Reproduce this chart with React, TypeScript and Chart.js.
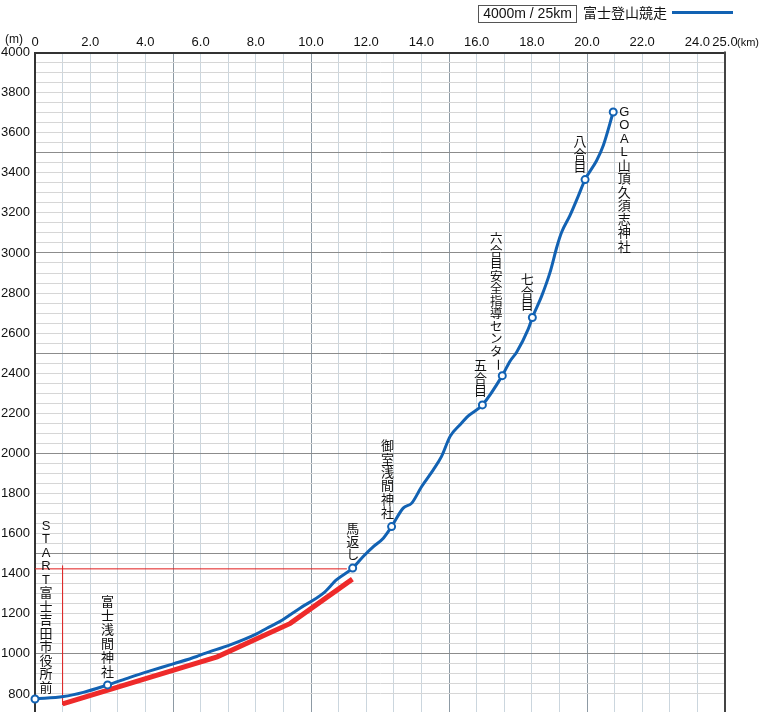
import React, { useEffect, useRef } from 'react';
import { Chart, registerables } from 'chart.js';

Chart.register(...registerables);

// ---- data ----
const courseKm = [
  0, 1.03, 1.75, 2.63, 3.44, 4.17, 5.01, 5.86, 6.1, 7.07, 8.03, 8.4, 8.88, 9.6, 10.45,
  10.93, 11.51, 11.9, 12.26, 12.62, 12.92, 13.34, 13.65, 14.01, 14.43, 14.73, 15.04,
  15.4, 15.7, 16.21, 16.93, 17.21, 17.45, 17.87, 18.02, 18.36, 18.66, 18.92, 19.08,
  19.38, 19.69, 19.93, 20.35, 20.59, 20.95,
];
const courseElev = [
  775, 787, 808, 845, 883, 915, 950, 987, 1000, 1045, 1100, 1128, 1162, 1228, 1303,
  1370, 1428, 1487, 1535, 1577, 1635, 1727, 1752, 1835, 1918, 1985, 2085,
  2143, 2187, 2242, 2388, 2460, 2505, 2620, 2678, 2786, 2903, 3036, 3103,
  3186, 3286, 3366, 3461, 3536, 3703,
];
const markerIdx = [0, 3, 16, 20, 29, 30, 34, 41, 44];
const markerNames = [
  'START富士吉田市役所前',
  '富士浅間神社',
  '馬返し',
  '御室浅間神社',
  '五合目',
  '六合目安全指導センター',
  '七合目',
  '八合目',
  'GOAL山頂久須志神社',
];
const redKm = [1.0, 6.6, 9.25, 11.5];
const redElev = [750, 985, 1152, 1373];
const guideVKm = [1.0, 1.0];
const guideVElev = [745, 1441];
const guideHKm = [0, 11.3];
const guideHElev = [1424, 1424];
const xLabelValues = [0, 2, 4, 6, 8, 10, 12, 14, 16, 18, 20, 22, 24, 25];
const yLabelValues = [800, 1000, 1200, 1400, 1600, 1800, 2000, 2200, 2400, 2600, 2800, 3000, 3200, 3400, 3600, 3800, 4000];
const scaleNote = '4000m / 25km';
const seriesName = '富士登山競走';
const xUnit = '(km)';
const yUnit = '(m)';

// ---- label layout (style, not data): dx, dy of first char, spacing, font size ----
const labelLayout = [
  { dx: 11, dy: -173, sp: 13.5, fs: 13 },
  { dx: 0, dy: -83, sp: 14, fs: 13 },
  { dx: 0, dy: -39, sp: 13, fs: 13 },
  { dx: -4, dy: -80, sp: 13.4, fs: 13 },
  { dx: -2, dy: -38, sp: 12.5, fs: 13 },
  { dx: -6, dy: -136, sp: 12.5, fs: 12.5 },
  { dx: -5, dy: -37, sp: 12.5, fs: 13 },
  { dx: -5, dy: -37, sp: 12.5, fs: 13 },
  { dx: 11, dy: 0, sp: 13.5, fs: 13 },
];

const FONT = "'Liberation Sans', Arial, 'Noto Sans CJK JP', sans-serif";
const BLUE = '#1262b3';

const toXY = (xs: number[], ys: number[]) => xs.map((x, i) => ({ x, y: ys[i] }));

const overlayPlugin = {
  id: 'overlay',
  afterDatasetsDraw(chart: any) {
    const ctx = chart.ctx;
    const area = chart.chartArea;
    ctx.save();
    // right border
    ctx.strokeStyle = '#444';
    ctx.lineWidth = 2;
    ctx.beginPath();
    ctx.moveTo(area.right, area.top - 1);
    ctx.lineTo(area.right, area.bottom);
    ctx.stroke();

    // vertical labels
    const meta = chart.getDatasetMeta(0);
    ctx.fillStyle = '#111';
    ctx.textAlign = 'center';
    ctx.textBaseline = 'middle';
    markerIdx.forEach((idx, k) => {
      const pt = meta.data[idx];
      if (!pt) return;
      const L = labelLayout[k];
      ctx.font = `${L.fs}px ${FONT}`;
      const chars = Array.from(markerNames[k]);
      chars.forEach((c, i) => {
        const x = pt.x + L.dx;
        const y = pt.y + L.dy + i * L.sp;
        if (c === 'ー') {
          ctx.save();
          ctx.translate(x, y);
          ctx.rotate(Math.PI / 2);
          ctx.fillText(c, 0, 0);
          ctx.restore();
        } else {
          ctx.fillText(c, x, y);
        }
      });
    });
    ctx.restore();
  },
  afterDraw(chart: any) {
    const ctx = chart.ctx;
    ctx.save();
    ctx.fillStyle = '#111';
    ctx.textBaseline = 'middle';
    // unit labels
    ctx.font = `12px ${FONT}`;
    ctx.textAlign = 'left';
    ctx.fillText(yUnit, 5, 40);
    const xs = chart.scales.x;
    const px25 = xs.getPixelForValue(25);
    ctx.font = `11px ${FONT}`;
    ctx.fillText(xUnit, px25 + 12, 42.5);
    // legend
    ctx.font = `14px ${FONT}`;
    ctx.strokeStyle = '#555';
    ctx.lineWidth = 1;
    ctx.strokeRect(478.5, 5.5, 98, 17);
    ctx.textAlign = 'center';
    ctx.fillText(scaleNote, 527.5, 14.5);
    ctx.textAlign = 'left';
    ctx.fillText(seriesName, 583, 14.5);
    ctx.strokeStyle = BLUE;
    ctx.lineWidth = 3;
    ctx.beginPath();
    ctx.moveTo(672, 12.5);
    ctx.lineTo(733, 12.5);
    ctx.stroke();
    ctx.restore();
  },
};

export default function App() {
  const canvasRef = useRef<HTMLCanvasElement | null>(null);

  useEffect(() => {
    if (!canvasRef.current) return;
    Chart.defaults.font.family = FONT;
    const chart = new Chart(canvasRef.current, {
      type: 'line',
      data: {
        datasets: [
          {
            label: seriesName,
            data: toXY(courseKm, courseElev),
            borderColor: BLUE,
            borderWidth: 3,
            cubicInterpolationMode: 'monotone',
            pointRadius: courseKm.map((_, i) => (markerIdx.includes(i) ? 3.5 : 0)),
            pointBackgroundColor: '#fff',
            pointBorderColor: BLUE,
            pointBorderWidth: 2,
            fill: false,
            clip: false,
          },
          {
            label: 'red',
            data: toXY(redKm, redElev),
            borderColor: '#ee2a2a',
            borderWidth: 5,
            pointRadius: 0,
            tension: 0,
            fill: false,
          },
          {
            label: 'guideV',
            data: toXY(guideVKm, guideVElev),
            borderColor: '#e01a1a',
            borderWidth: 1,
            pointRadius: 0,
            fill: false,
          },
          {
            label: 'guideH',
            data: toXY(guideHKm, guideHElev),
            borderColor: '#e01a1a',
            borderWidth: 1,
            pointRadius: 0,
            fill: false,
          },
        ],
      },
      options: {
        animation: false,
        responsive: true,
        maintainAspectRatio: false,
        layout: { autoPadding: false, padding: { left: 0, top: 0, right: 35, bottom: 0 } },
        plugins: { legend: { display: false }, tooltip: { enabled: false } },
        scales: {
          x: {
            type: 'linear',
            position: 'top',
            min: 0,
            max: 25,
            afterFit: (s: any) => {
              s.height = 52.5;
              s.paddingLeft = 0;
              s.paddingRight = 0;
            },
            ticks: {
              stepSize: 1,
              autoSkip: false,
              maxRotation: 0,
              padding: 2,
              color: '#111',
              font: { size: 13, family: FONT },
              callback: (v: any) => {
                const n = Number(v);
                if (!xLabelValues.includes(n)) return '';
                return n === 0 ? '0' : n.toFixed(1);
              },
            },
            grid: {
              drawTicks: false,
              lineWidth: 1,
              color: (c: any) => (c.tick && c.tick.value % 5 === 0 ? '#8d9aa4' : '#cbd6de'),
            },
            border: { display: true, color: '#333', width: 2 },
          },
          y: {
            type: 'linear',
            min: 710,
            max: 4000,
            afterFit: (s: any) => {
              s.width = 35;
              s.paddingTop = 0;
              s.paddingBottom = 0;
            },
            afterBuildTicks: (s: any) => {
              s.ticks = s.ticks.filter((t: any) => t.value % 50 === 0);
            },
            ticks: {
              stepSize: 50,
              autoSkip: false,
              padding: 5,
              color: '#111',
              font: { size: 13, family: FONT },
              callback: (v: any) => (yLabelValues.includes(Number(v)) ? String(v) : ''),
            },
            grid: {
              drawTicks: false,
              lineWidth: 1,
              color: (c: any) => (c.tick && c.tick.value % 500 === 0 ? '#8c8c8c' : '#d6d6d6'),
            },
            border: { display: true, color: '#333', width: 2 },
          },
        },
      },
      plugins: [overlayPlugin],
    } as any);
    return () => chart.destroy();
  }, []);

  return (
    <div style={{ position: 'absolute', left: 0, top: 0, width: 760, height: 712, background: '#fff' }}>
      <canvas ref={canvasRef} />
    </div>
  );
}
